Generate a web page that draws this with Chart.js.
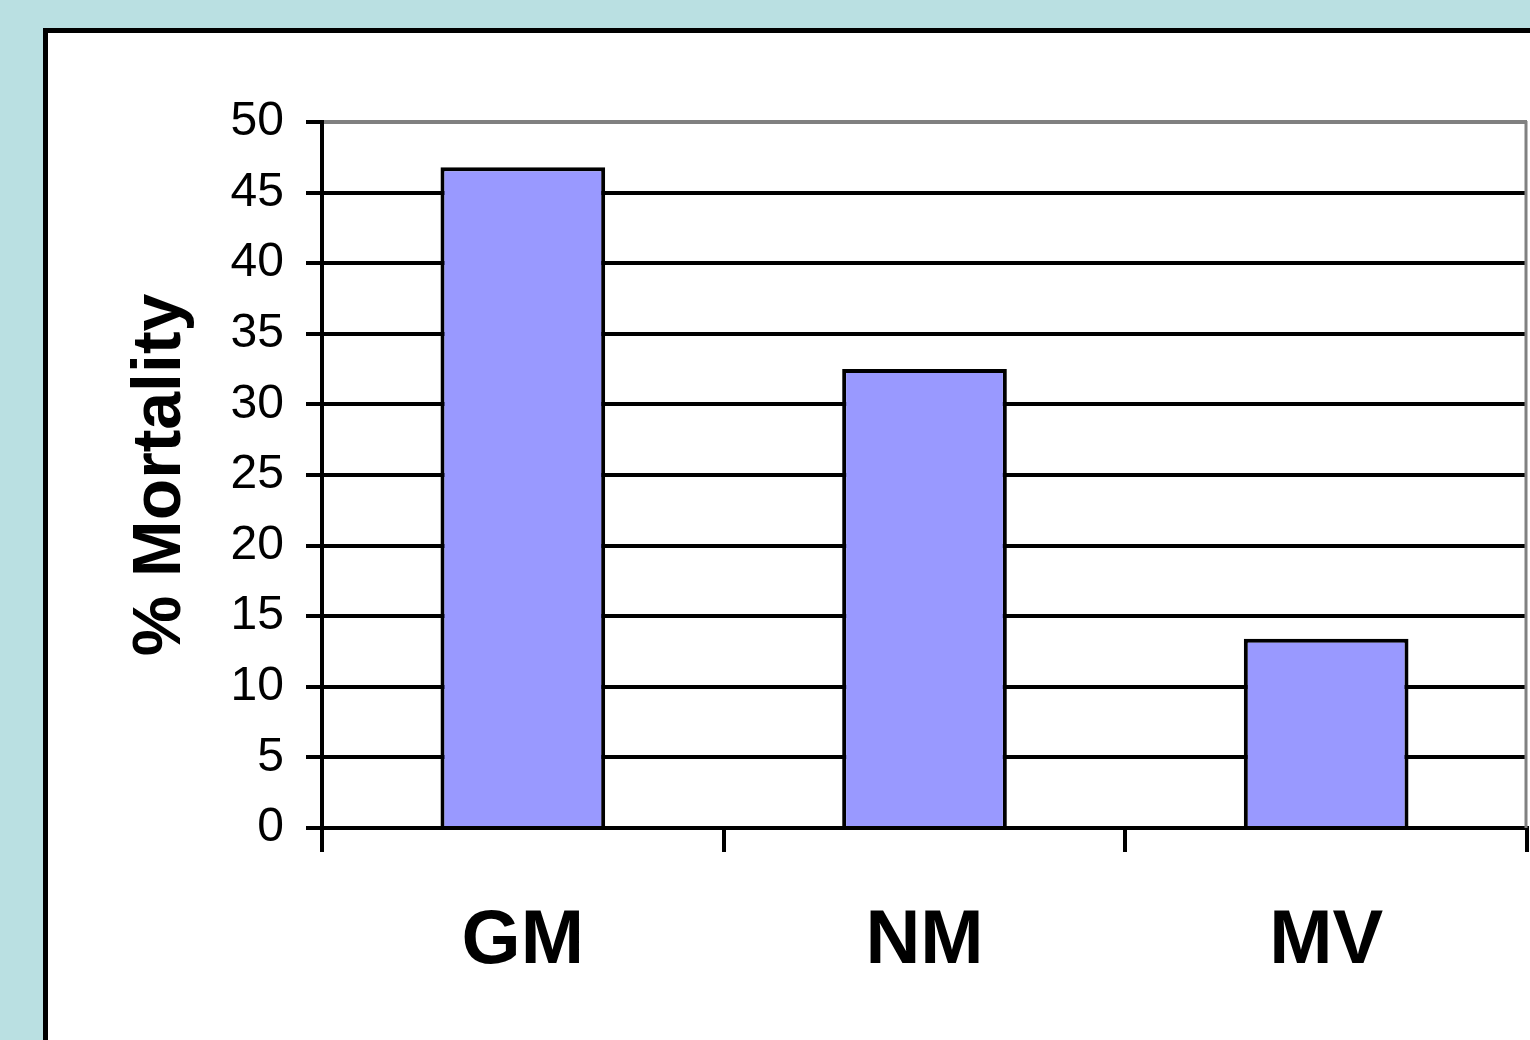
<!DOCTYPE html>
<html>
<head>
<meta charset="utf-8">
<title>% Mortality</title>
<script src="https://cdn.jsdelivr.net/npm/chart.js@4/dist/chart.umd.min.js"></script>
<style>
  html, body { margin: 0; padding: 0; background: #bae0e2; }
  canvas { display: block; }
</style>
</head>
<body>
<canvas id="chart" width="1530" height="1040"></canvas>
<script>
// Mortality by group
const categories = ['GM', 'NM', 'MV'];
const mortality = [46.8, 32.5, 13.4];
const yTicks = { min: 0, max: 50, step: 5 };

const FONT = '"Liberation Sans", Arial, Helvetica, sans-serif';

// Teal page with a white framed panel behind the chart
const panelPlugin = {
  id: 'panel',
  beforeDraw(chart) {
    const c = chart.ctx;
    c.save();
    c.fillStyle = '#bae0e2';
    c.fillRect(0, 0, chart.width, chart.height);
    c.fillStyle = '#ffffff';
    c.fillRect(45, 30, chart.width, chart.height);
    c.strokeStyle = '#000000';
    c.lineWidth = 5;
    c.beginPath();
    c.moveTo(45.5, chart.height + 10);
    c.lineTo(45.5, 30.5);
    c.lineTo(chart.width + 10, 30.5);
    c.stroke();
    c.restore();
  },
  beforeDatasetsDraw(chart) {
    const a = chart.chartArea;
    const c = chart.ctx;
    c.save();
    c.strokeStyle = '#808080';
    c.lineWidth = 3;
    c.beginPath();
    c.moveTo(a.right - 1, a.top - 1);
    c.lineTo(a.right - 1, a.bottom);
    c.stroke();
    c.restore();
  }
};

new Chart(document.getElementById('chart'), {
  type: 'bar',
  data: {
    labels: categories,
    datasets: [{
      label: '% Mortality',
      data: mortality,
      backgroundColor: '#9999ff',
      borderColor: '#000000',
      borderWidth: 4,
      barPercentage: 0.41,
      categoryPercentage: 1.0
    }]
  },
  options: {
    responsive: false,
    animation: false,
    devicePixelRatio: 1,
    layout: { padding: { left: 110, top: 122, right: 3, bottom: 0 } },
    plugins: {
      legend: { display: false },
      tooltip: { enabled: false }
    },
    scales: {
      x: {
        offset: true,
        afterFit(scale) { scale.height = 212; },
        grid: {
          offset: true,
          drawOnChartArea: false,
          drawTicks: true,
          tickLength: 24,
          tickWidth: 4,
          tickColor: '#000000',
          color: '#000000',
          lineWidth: 4
        },
        border: { display: true, color: '#000000', width: 4 },
        ticks: {
          color: '#000000',
          padding: 44,
          maxRotation: 0,
          font: { family: FONT, size: 76, weight: 'bold' }
        }
      },
      y: {
        min: yTicks.min,
        max: yTicks.max,
        afterFit(scale) { scale.width = 212; },
        grid: {
          color: (ctx) => (ctx.tick && ctx.tick.value === yTicks.max ? '#808080' : '#000000'),
          lineWidth: 4,
          drawTicks: true,
          tickLength: 16,
          tickWidth: 4,
          tickColor: '#000000'
        },
        border: { display: true, color: '#000000', width: 4 },
        ticks: {
          stepSize: yTicks.step,
          color: '#000000',
          padding: 22,
          font: { family: FONT, size: 48 }
        },
        title: {
          display: true,
          text: '% Mortality',
          color: '#000000',
          padding: { top: 10, bottom: 0 },
          font: { family: FONT, size: 68, weight: 'bold' }
        }
      }
    }
  },
  plugins: [panelPlugin]
});
</script>
</body>
</html>
